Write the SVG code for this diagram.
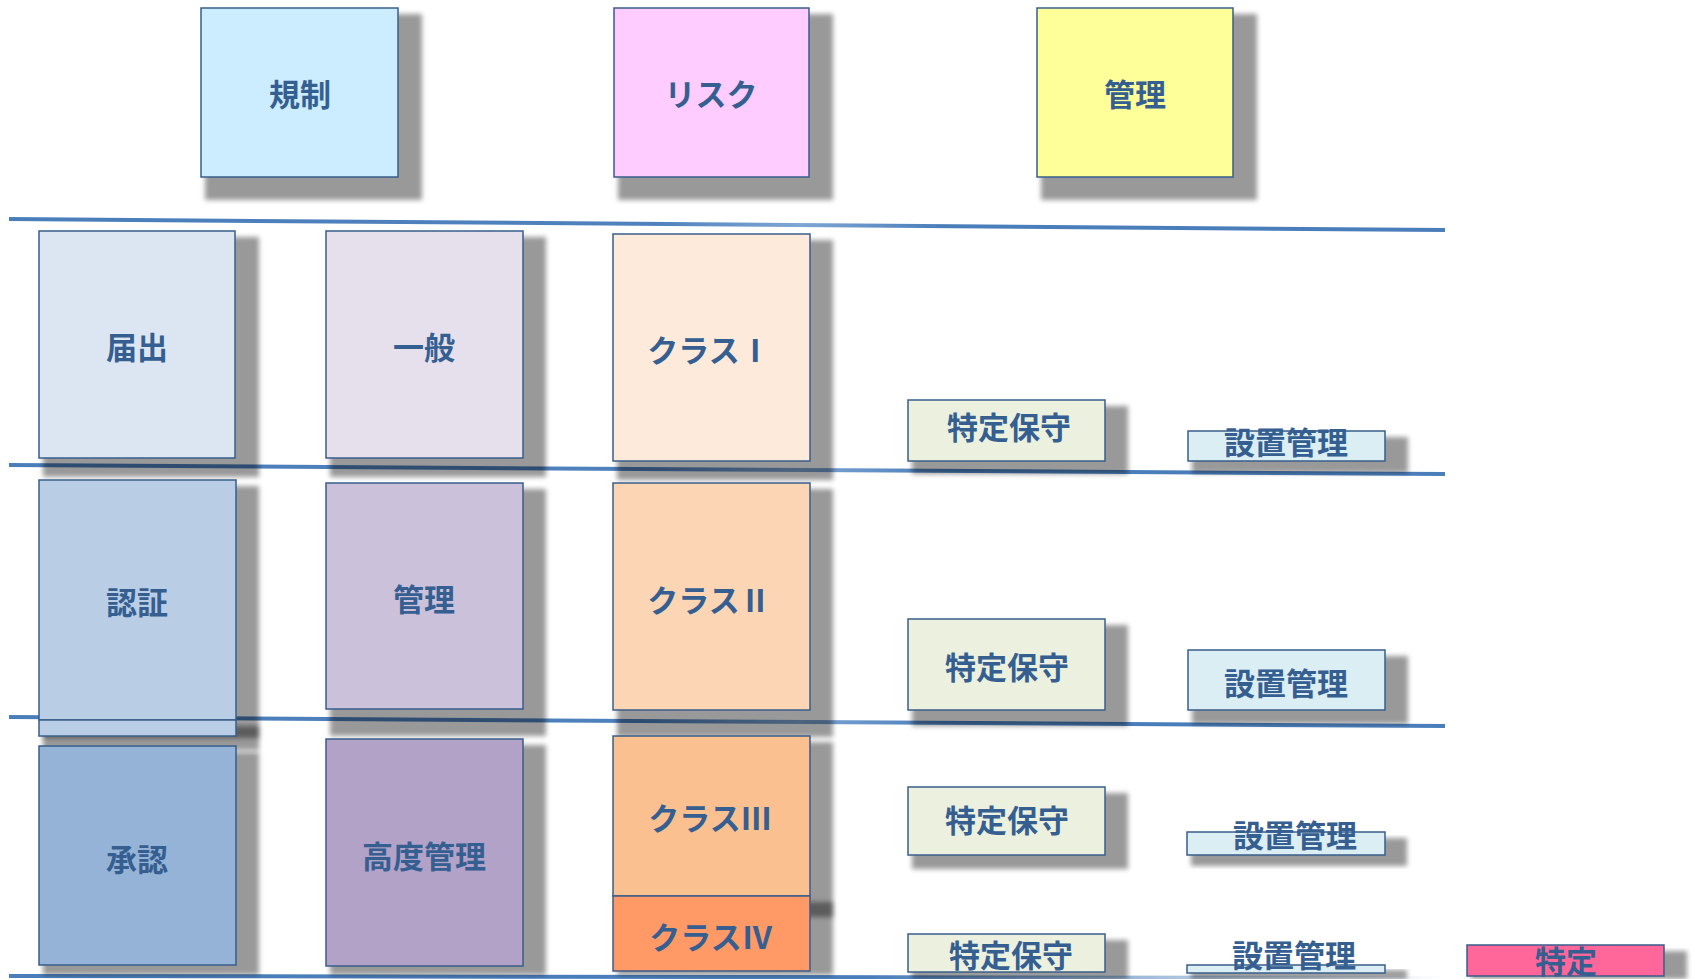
<svg xmlns="http://www.w3.org/2000/svg" width="1706" height="979" viewBox="0 0 1706 979">
<defs>
<filter id="blur" x="-10%" y="-10%" width="120%" height="120%"><feGaussianBlur stdDeviation="2.5"/></filter>
<linearGradient id="lg" x1="0" y1="0" x2="1" y2="0">
<stop offset="0" stop-color="#4a7ebb"/><stop offset="0.45" stop-color="#4f81bd"/><stop offset="0.55" stop-color="#7fa6d4"/><stop offset="0.65" stop-color="#4a7ebb"/><stop offset="1" stop-color="#4a7ebb"/>
</linearGradient>
<linearGradient id="lg4" x1="0" y1="0" x2="1" y2="0">
<stop offset="0" stop-color="#4a7ebb"/><stop offset="0.6" stop-color="#4a7ebb"/><stop offset="1" stop-color="#4a7ebb" stop-opacity="0"/>
</linearGradient>
</defs>
<style>
.sh{fill:#000;fill-opacity:0.4;filter:url(#blur)}
.box{stroke:#385d8a;stroke-width:1.5}
.t{font-family:"Noto Sans CJK JP","Noto Sans CJK SC",sans-serif;font-weight:700;font-size:31px;fill:#365f91;text-anchor:middle;dominant-baseline:central}
.sep{stroke:url(#lg);stroke-width:4;fill:none}
</style>
<rect width="1706" height="979" fill="#fff"/>
<g id="connectors">
<line class="sep" x1="9" y1="219" x2="1445" y2="230"/>
<line class="sep" x1="9" y1="465" x2="1445" y2="474"/>
<line class="sep" x1="9" y1="717" x2="1445" y2="726"/>
<line x1="9" y1="976" x2="1445" y2="978" stroke="url(#lg4)" stroke-width="4"/>
</g>
<g id="n-kisei"><rect class="sh" x="205" y="14" width="217" height="186"/><rect class="box" x="201" y="8" width="197" height="169" fill="#ccecff"/><text class="t" x="300" y="92">規制</text></g>
<g id="n-risk"><rect class="sh" x="618" y="14" width="215" height="186"/><rect class="box" x="614" y="8" width="195" height="169" fill="#ffccff"/><text class="t" x="711" y="92">リスク</text></g>
<g id="n-kanri-top"><rect class="sh" x="1041" y="14" width="216" height="186"/><rect class="box" x="1037" y="8" width="196" height="169" fill="#ffff99"/><text class="t" x="1135" y="92">管理</text></g>

<g id="n-todokede"><rect class="sh" x="43" y="237" width="216" height="240"/><rect class="box" x="39" y="231" width="196" height="227" fill="#dce6f2"/><text class="t" x="137" y="345">届出</text></g>
<g id="n-ippan"><rect class="sh" x="330" y="237" width="216" height="240"/><rect class="box" x="326" y="231" width="197" height="227" fill="#e6e0ec" stroke-width="3"/><text class="t" x="424" y="345">一般</text></g>
<g id="n-class1"><rect class="sh" x="617" y="240" width="216" height="240"/><rect class="box" x="613" y="234" width="197" height="227" fill="#fdeada"/><text class="t" x="709" y="348">クラスⅠ</text></g>
<g id="n-tokutei1"><rect class="sh" x="912" y="406" width="216" height="68"/><rect class="box" x="908" y="400" width="197" height="61" fill="#ebf1de"/><text class="t" x="1009" y="425">特定保守</text></g>
<g id="n-secchi1"><rect class="sh" x="1192" y="437" width="216" height="36"/><rect class="box" x="1188" y="431" width="197" height="30" fill="#dbeef4"/><text class="t" x="1286" y="440">設置管理</text></g>

<g id="n-ninsho"><rect class="sh" x="43" y="486" width="216" height="252"/><rect class="sh" x="43" y="726" width="216" height="24"/><rect class="box" x="39" y="480" width="197" height="240" fill="#b9cde5"/><rect class="box" x="39" y="720" width="197" height="16" fill="#b9cde5"/><text class="t" x="137" y="600">認証</text></g>
<g id="n-kanri"><rect class="sh" x="330" y="489" width="216" height="247"/><rect class="box" x="326" y="483" width="197" height="226" fill="#ccc1da"/><text class="t" x="424" y="597">管理</text></g>
<g id="n-class2"><rect class="sh" x="617" y="489" width="216" height="248"/><rect class="box" x="613" y="483" width="197" height="227" fill="#fcd5b5"/><text class="t" x="709" y="598">クラスⅡ</text></g>
<g id="n-tokutei2"><rect class="sh" x="912" y="625" width="216" height="101"/><rect class="box" x="908" y="619" width="197" height="91" fill="#ebf1de"/><text class="t" x="1007" y="665">特定保守</text></g>
<g id="n-secchi2"><rect class="sh" x="1192" y="656" width="216" height="68"/><rect class="box" x="1188" y="650" width="197" height="60" fill="#dbeef4"/><text class="t" x="1286" y="681">設置管理</text></g>

<g id="n-shonin"><rect class="sh" x="43" y="752" width="216" height="223"/><rect class="box" x="39" y="746" width="197" height="219" fill="#95b3d7"/><text class="t" x="137" y="857">承認</text></g>
<g id="n-kodo"><rect class="sh" x="330" y="745" width="216" height="230"/><rect class="box" x="326" y="739" width="197" height="227" fill="#b3a2c7"/><text class="t" x="424" y="854">高度管理</text></g>
<g id="n-class3"><rect class="sh" x="617" y="742" width="216" height="175"/><rect class="box" x="613" y="736" width="197" height="160" fill="#fac090"/><text class="t" x="710" y="816">クラスⅢ</text></g>
<g id="n-class4"><rect class="sh" x="617" y="902" width="216" height="73"/><rect class="box" x="613" y="896" width="197" height="75" fill="#ff9966"/><text class="t" x="711" y="935">クラスⅣ</text></g>
<g id="n-tokutei3"><rect class="sh" x="912" y="793" width="216" height="76"/><rect class="box" x="908" y="787" width="197" height="68" fill="#ebf1de"/><text class="t" x="1007" y="818">特定保守</text></g>
<g id="n-secchi3"><rect class="sh" x="1191" y="838" width="216" height="28"/><rect class="box" x="1187" y="832" width="198" height="23" fill="#dbeef4"/><text class="t" x="1295" y="833">設置管理</text></g>
<g id="n-tokutei4"><rect class="sh" x="912" y="940" width="216" height="39"/><rect class="box" x="908" y="934" width="197" height="38" fill="#ebf1de"/><text class="t" x="1011" y="953">特定保守</text></g>
<g id="n-secchi4"><rect class="sh" x="1191" y="970" width="216" height="9"/><rect class="box" x="1187" y="965" width="198" height="8" fill="#dbeef4"/><text class="t" x="1294" y="953">設置管理</text></g>
<g id="n-tokutei"><rect class="sh" x="1471" y="951" width="216" height="28"/><rect class="box" x="1467" y="945" width="197" height="31" fill="#ff6699"/><text class="t" x="1566" y="959">特定</text></g>
</svg>
